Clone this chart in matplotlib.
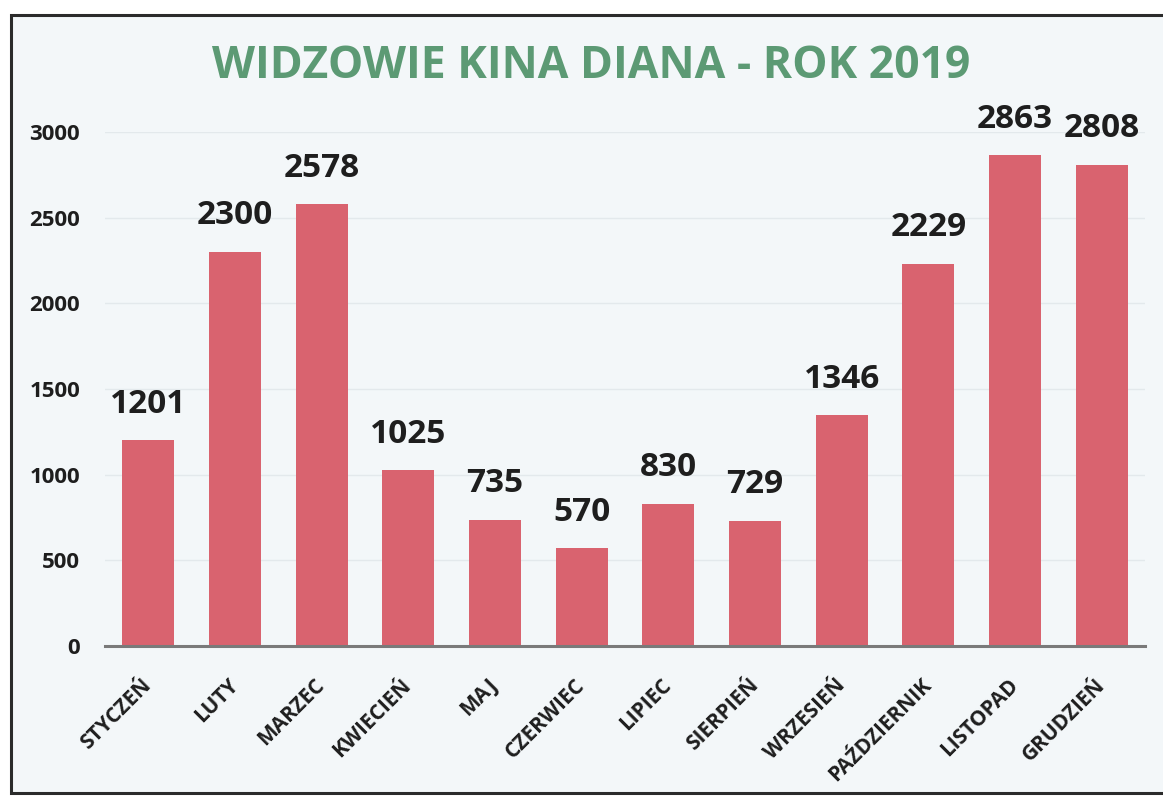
import matplotlib.pyplot as plt
from matplotlib.patches import Rectangle

plt.rcParams['font.family'] = ['Open Sans', 'DejaVu Sans']

months = ['STYCZEŃ', 'LUTY', 'MARZEC', 'KWIECIEŃ', 'MAJ', 'CZERWIEC',
          'LIPIEC', 'SIERPIEŃ', 'WRZESIEŃ', 'PAŹDZIERNIK', 'LISTOPAD', 'GRUDZIEŃ']
viewers = [1201, 2300, 2578, 1025, 735, 570, 830, 729, 1346, 2229, 2863, 2808]
y_ticks = [0, 500, 1000, 1500, 2000, 2500, 3000]

bg = '#f3f7f9'
bar_color = '#d9636f'
title_color = '#5c9a74'

fig = plt.figure(figsize=(11.63, 7.96), dpi=100)
fig.patch.set_facecolor('white')

# ramka wykresu (skan ucięty z prawej)
frame = Rectangle((11 / 1163, 1 - 793 / 796), 1.05, (793 - 15) / 796,
                  transform=fig.transFigure, facecolor=bg, edgecolor='#2b2b2b',
                  linewidth=2.2, zorder=-5)
fig.patches.append(frame)

ax = fig.add_axes([105 / 1163, 1 - 646 / 796, (1145 - 105) / 1163, (646 - 132) / 796])
ax.set_facecolor('none')

x = range(len(months))
bars = ax.bar(x, viewers, width=0.6, color=bar_color, zorder=2)

for xi, v in zip(x, viewers):
    ax.annotate(str(v), (xi, v), xytext=(0, 26), textcoords='offset points',
                ha='center', va='center', fontsize=24, fontweight='bold',
                color='#1e1e1e', annotation_clip=False)

ax.set_xlim(-0.5, len(months) - 0.5)
ax.set_ylim(0, 3000)
ax.set_yticks(y_ticks)
ax.set_yticklabels([str(t) for t in y_ticks], fontsize=16, fontweight='bold', color='#1e1e1e')
ax.tick_params(axis='y', length=0, pad=18)
ax.set_xticks(list(x))
ax.set_xticklabels(months, rotation=45, ha='right', va='center', rotation_mode='anchor',
                   fontsize=15, fontweight='bold', color='#1e1e1e')
ax.tick_params(axis='x', length=0, pad=26)

ax.grid(axis='y', color='#e3e9ec', linewidth=1, zorder=0)
ax.set_axisbelow(True)
for s in ['top', 'right', 'left']:
    ax.spines[s].set_visible(False)
ax.spines['bottom'].set_color('#7a7a7a')
ax.spines['bottom'].set_linewidth(2.2)
ax.spines['bottom'].set_zorder(3)

fig.text(591 / 1163, 1 - 66 / 796, 'WIDZOWIE KINA DIANA - ROK 2019',
         ha='center', va='center', fontsize=32, fontweight='bold', color=title_color)

fig.savefig('out.png', dpi=100, facecolor='white')
